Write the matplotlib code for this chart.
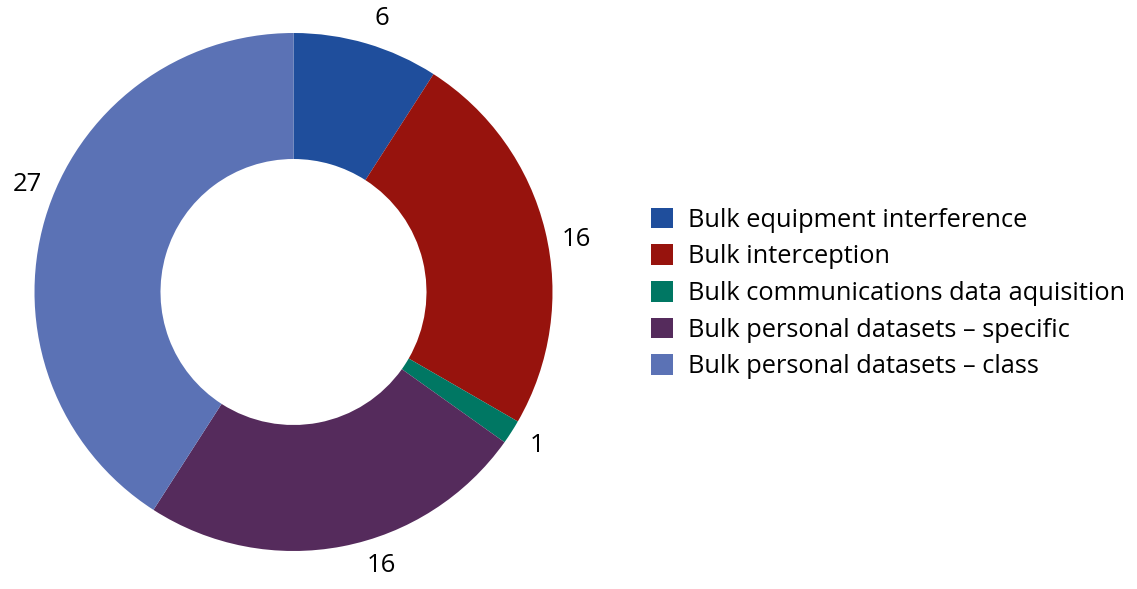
import numpy as np
import matplotlib
matplotlib.use("Agg")
import matplotlib.pyplot as plt

categories = [
    "Bulk equipment interference",
    "Bulk interception",
    "Bulk communications data aquisition",
    "Bulk personal datasets \u2013 specific",
    "Bulk personal datasets \u2013 class",
]
values = [6, 16, 1, 16, 27]
colors = ["#1F4E9C", "#97130D", "#007763", "#552B5C", "#5B72B5"]

# small angular nudges (degrees, clockwise) so value labels sit clear of the ring
label_nudge = [1.6, 3.2, -0.5, -6.8, 5.7]

plt.rcParams["font.family"] = ["Open Sans", "DejaVu Sans"]

W, H = 1137, 589
fig = plt.figure(figsize=(W / 100, H / 100), dpi=100)
ax = fig.add_axes([0, 0, 1, 1])

cx, cy = 293.5, H - 292
radius = 259
ring = 126
label_r = 1.11 * radius

wedges, texts = ax.pie(
    values,
    labels=[str(v) for v in values],
    colors=colors,
    startangle=90,
    counterclock=False,
    center=(cx, cy),
    radius=radius,
    labeldistance=1.11,
    wedgeprops=dict(width=ring, linewidth=0),
    textprops=dict(fontsize=18.5, color="#000000"),
    frame=True,
)
ax.set_xlim(0, W)
ax.set_ylim(0, H)
ax.set_aspect("equal")
ax.axis("off")

cum = np.cumsum([0] + values)
total = cum[-1]
for i, t in enumerate(texts):
    mid = (cum[i] + cum[i + 1]) / 2 / total * 360 + label_nudge[i]
    a = np.deg2rad(90 - mid)
    t.set_position((cx + label_r * np.cos(a), cy + label_r * np.sin(a)))
    t.set_ha("center")
    t.set_va("center")

leg = ax.legend(
    wedges,
    categories,
    loc="upper left",
    bbox_to_anchor=(646 / W, 1 - 202.5 / H),
    bbox_transform=fig.transFigure,
    frameon=False,
    fontsize=18.25,
    handlelength=0.87,
    handleheight=0.87,
    handletextpad=0.6,
    labelspacing=0.46,
    borderpad=0.2,
    borderaxespad=0,
)

fig.savefig("out.png", dpi=100)
